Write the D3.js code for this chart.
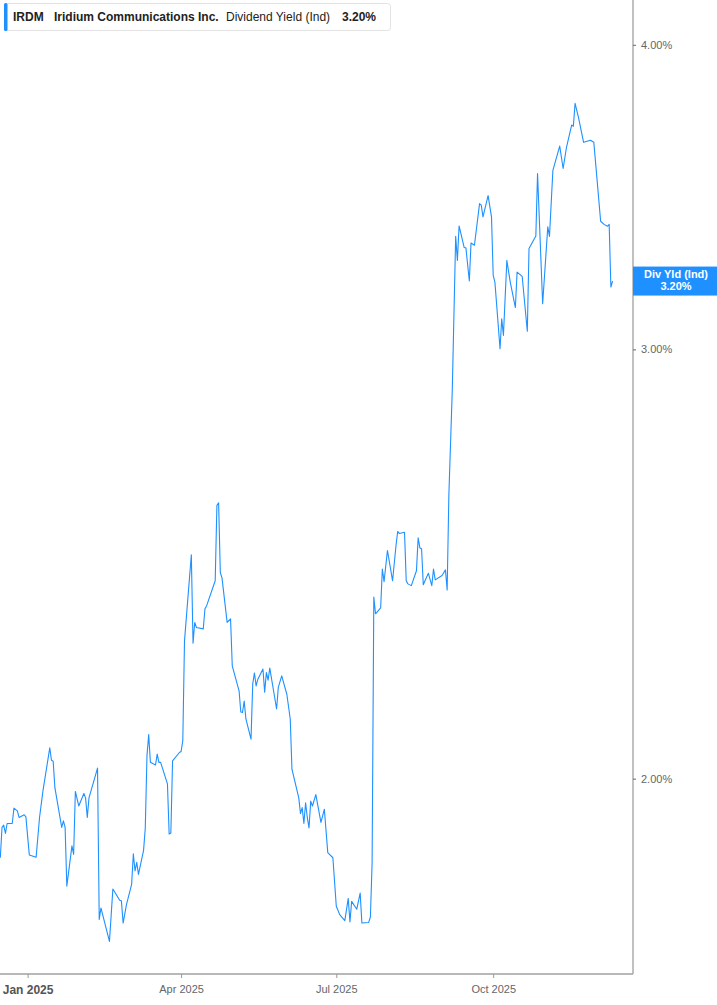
<!DOCTYPE html>
<html>
<head>
<meta charset="utf-8">
<script src="https://cdn.jsdelivr.net/npm/d3@7/dist/d3.min.js"></script>
<style>
  html, body { margin: 0; padding: 0; background: #fff; }
  svg { display: block; font-family: "Liberation Sans", Arial, sans-serif; }
</style>
</head>
<body>
<svg id="chart" width="717" height="1005"></svg>
<script>
// ---- data ----
const ticker = "IRDM";
const companyName = "Iridium Communications Inc.";
const metricName = "Dividend Yield (Ind)";
const currentValue = 3.20;
const badgeLabel = "Div Yld (Ind)";

const dates = [
"2024-12-16","2024-12-17","2024-12-18","2024-12-19","2024-12-20","2024-12-23","2024-12-24","2024-12-26","2024-12-27","2024-12-30","2024-12-31",
"2025-01-02","2025-01-06","2025-01-08","2025-01-10","2025-01-14","2025-01-15","2025-01-16","2025-01-17","2025-01-21","2025-01-22","2025-01-23","2025-01-24","2025-01-27","2025-01-28","2025-01-29","2025-01-31",
"2025-02-03","2025-02-04","2025-02-05","2025-02-06","2025-02-11","2025-02-12","2025-02-13","2025-02-18","2025-02-20","2025-02-24","2025-02-25","2025-02-26","2025-02-28",
"2025-03-03","2025-03-04","2025-03-05","2025-03-06","2025-03-07","2025-03-10","2025-03-11","2025-03-12","2025-03-13","2025-03-14","2025-03-17","2025-03-18","2025-03-19","2025-03-20","2025-03-24","2025-03-25","2025-03-26","2025-03-27","2025-03-31",
"2025-04-01","2025-04-02","2025-04-03","2025-04-07","2025-04-08","2025-04-09","2025-04-10","2025-04-14","2025-04-15","2025-04-16","2025-04-21","2025-04-22","2025-04-23","2025-04-24","2025-04-25","2025-04-28","2025-04-30",
"2025-05-01","2025-05-05","2025-05-06","2025-05-07","2025-05-08","2025-05-09","2025-05-12","2025-05-13","2025-05-14","2025-05-15","2025-05-16","2025-05-19","2025-05-20","2025-05-21","2025-05-22","2025-05-23","2025-05-27","2025-05-28","2025-05-30",
"2025-06-02","2025-06-04","2025-06-05","2025-06-09","2025-06-10","2025-06-11","2025-06-12","2025-06-13","2025-06-14","2025-06-15","2025-06-16","2025-06-17","2025-06-19","2025-06-22","2025-06-24","2025-06-26","2025-06-29",
"2025-07-01","2025-07-03","2025-07-06","2025-07-08","2025-07-09","2025-07-10","2025-07-13","2025-07-15","2025-07-16","2025-07-20","2025-07-21","2025-07-22","2025-07-23","2025-07-24","2025-07-27","2025-07-28","2025-07-29","2025-07-31",
"2025-08-03","2025-08-05","2025-08-06","2025-08-07","2025-08-10","2025-08-11","2025-08-12","2025-08-14","2025-08-17","2025-08-18","2025-08-19","2025-08-20","2025-08-21","2025-08-22","2025-08-24","2025-08-26","2025-08-27","2025-08-28",
"2025-09-01","2025-09-03","2025-09-04","2025-09-05","2025-09-07","2025-09-09","2025-09-10","2025-09-11","2025-09-14","2025-09-15","2025-09-17","2025-09-18","2025-09-20","2025-09-23","2025-09-24","2025-09-25","2025-09-28","2025-09-30",
"2025-10-01","2025-10-02","2025-10-05","2025-10-06","2025-10-07","2025-10-09","2025-10-11","2025-10-14","2025-10-15","2025-10-18","2025-10-21","2025-10-22","2025-10-26","2025-10-27","2025-10-30",
"2025-11-02","2025-11-03","2025-11-05","2025-11-09","2025-11-11","2025-11-13","2025-11-16","2025-11-17","2025-11-18","2025-11-20","2025-11-23","2025-11-24","2025-11-27","2025-11-29",
"2025-12-03","2025-12-05","2025-12-07","2025-12-08","2025-12-09","2025-12-10"
];

const yields = [
1.856,1.910,1.914,1.899,1.917,1.917,1.945,1.940,1.928,1.933,1.929,
1.861,1.857,1.928,1.977,2.059,2.035,2.033,1.983,1.910,1.922,1.910,1.807,1.877,1.862,1.976,1.949,
1.972,1.964,1.928,1.964,2.020,1.751,1.770,1.715,1.802,1.783,1.782,1.745,1.776,
1.810,1.863,1.833,1.848,1.827,1.869,1.909,2.044,2.085,2.031,2.026,2.047,2.031,2.031,1.990,1.898,1.900,2.034,2.050,
2.052,2.073,2.278,2.471,2.273,2.318,2.307,2.304,2.348,2.355,2.411,2.589,2.595,2.430,2.417,2.318,2.326,
2.225,2.173,2.130,2.129,2.152,2.116,2.076,2.187,2.210,2.183,2.197,2.218,2.170,2.211,2.195,2.220,2.136,2.180,2.204,
2.166,2.116,2.018,1.964,1.935,1.946,1.917,1.955,1.928,1.909,1.958,1.949,1.970,1.919,1.943,1.865,1.856,
1.773,1.759,1.749,1.786,1.747,1.781,1.768,1.795,1.745,1.746,1.755,1.847,2.374,2.337,2.350,2.438,2.409,2.481,
2.411,2.492,2.526,2.521,2.524,2.411,2.404,2.400,2.434,2.511,2.487,2.485,2.402,2.411,2.428,2.400,2.438,2.413,
2.423,2.436,2.390,2.613,2.886,3.338,3.263,3.371,3.303,3.302,3.200,3.317,3.310,3.443,3.438,3.400,3.469,3.400,
3.217,3.197,3.002,3.088,3.040,3.263,3.197,3.121,3.227,3.214,3.052,3.300,3.339,3.542,3.132,
3.368,3.338,3.553,3.635,3.559,3.632,3.708,3.704,3.785,3.735,3.648,3.650,3.655,3.648,
3.386,3.376,3.370,3.376,3.182,3.200
];

const yTickValues = [2, 3, 4];
const yTickLabels = ["2.00%", "3.00%", "4.00%"];
const xTickDates = ["2025-01-01", "2025-04-01", "2025-07-01", "2025-10-01"];
const xTickLabels = ["Jan 2025", "Apr 2025", "Jul 2025", "Oct 2025"];

// ---- layout ----
const W = 717, H = 1005;
const plotLeft = 0, plotRight = 633, plotTop = 0, plotBottom = 974;
const blue = "#1e90ff";

const parse = d3.utcParse("%Y-%m-%d");
const data = dates.map((d, i) => ({ date: parse(d), v: yields[i] }));

const dayMs = 864e5;
const jan1 = Date.UTC(2025, 0, 1);
const x = d3.scaleUtc()
  .domain([new Date(jan1 - 16.18 * dayMs), new Date(jan1 + 354.97 * dayMs)])
  .range([plotLeft, plotRight]);

const y = d3.scaleLog()
  .domain([1.663, 4.173])
  .range([plotBottom, plotTop]);

const svg = d3.select("#chart");

svg.append("defs").append("clipPath").attr("id", "plotclip")
  .append("rect").attr("x", plotLeft).attr("y", plotTop)
  .attr("width", plotRight - plotLeft).attr("height", plotBottom - plotTop);

// line
const line = d3.line().x(d => x(d.date)).y(d => y(d.v));
svg.append("path")
  .datum(data)
  .attr("clip-path", "url(#plotclip)")
  .attr("fill", "none")
  .attr("stroke", blue)
  .attr("stroke-width", 1.1)
  .attr("stroke-linejoin", "round")
  .attr("d", line);

// right axis
const yAxis = d3.axisRight(y)
  .tickValues(yTickValues)
  .tickFormat((d, i) => yTickLabels[i])
  .tickSize(3)
  .tickPadding(5);
const gy = svg.append("g").attr("transform", `translate(${plotRight},0)`).call(yAxis);
gy.select(".domain").attr("stroke", "#a0a0a0").attr("stroke-width", 1.3)
  .attr("d", `M0,${plotTop}V${plotBottom}`);
gy.selectAll(".tick line").attr("stroke", "#666");
gy.selectAll(".tick text")
  .attr("fill", "#666")
  .attr("font-size", 11)
  .attr("font-family", "'Liberation Sans', Arial, sans-serif");

// bottom axis
const xAxis = d3.axisBottom(x)
  .tickValues(xTickDates.map(parse))
  .tickFormat((d, i) => xTickLabels[i])
  .tickSize(4)
  .tickPadding(7);
const gx = svg.append("g").attr("transform", `translate(0,${plotBottom})`).call(xAxis);
gx.select(".domain").attr("stroke", "#a0a0a0").attr("stroke-width", 1.3)
  .attr("d", `M${plotLeft},0H${plotRight}`);
gx.selectAll(".tick line").attr("stroke", "#999");
gx.selectAll(".tick text")
  .attr("fill", (d, i) => i === 0 ? "#555" : "#666")
  .attr("font-weight", (d, i) => i === 0 ? "bold" : "normal")
  .attr("font-size", (d, i) => i === 0 ? 12 : 11)
  .attr("font-family", "'Liberation Sans', Arial, sans-serif");

// current value badge
const yc = y(currentValue);
const badge = svg.append("g");
badge.append("rect")
  .attr("x", plotRight).attr("y", yc - 14.5)
  .attr("width", W - plotRight).attr("height", 29)
  .attr("fill", blue);
badge.append("text")
  .attr("x", (plotRight + W) / 2 + 1).attr("y", yc - 3)
  .attr("text-anchor", "middle").attr("fill", "#fff")
  .attr("font-size", 11).attr("font-weight", "bold")
  .text(badgeLabel);
badge.append("text")
  .attr("x", (plotRight + W) / 2 + 1).attr("y", yc + 9)
  .attr("text-anchor", "middle").attr("fill", "#fff")
  .attr("font-size", 11).attr("font-weight", "bold")
  .text(d3.format(".2f")(currentValue) + "%");

// legend
const lg = svg.append("g");
lg.append("rect")
  .attr("x", 4.5).attr("y", 3.5).attr("width", 386).attr("height", 27)
  .attr("rx", 3).attr("fill", "#fff").attr("stroke", "#e2e2e2");
lg.append("rect")
  .attr("x", 4).attr("y", 3).attr("width", 3.5).attr("height", 28)
  .attr("rx", 1.5).attr("fill", blue);
const lgText = lg.append("text").attr("y", 21).attr("font-size", 12).attr("fill", "#222");
lgText.append("tspan").attr("x", 13).attr("font-weight", "bold").text(ticker);
lgText.append("tspan").attr("x", 54).attr("font-weight", "bold").text(companyName);
lgText.append("tspan").attr("x", 226).attr("font-weight", "normal").text(metricName);
lgText.append("tspan").attr("x", 342).attr("font-weight", "bold").text(d3.format(".2f")(currentValue) + "%");
</script>
</body>
</html>
